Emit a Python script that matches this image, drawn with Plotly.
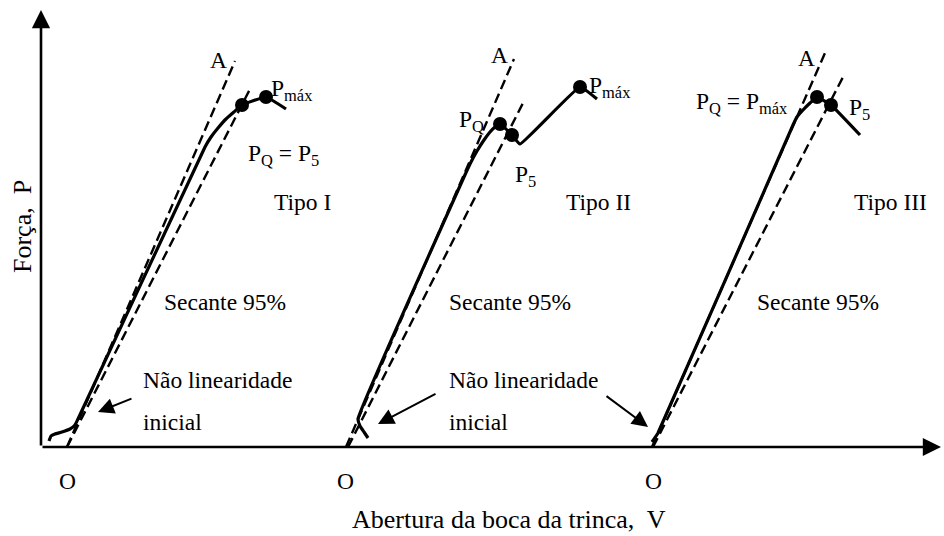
import plotly.graph_objects as go

# ---- data (V = crack mouth opening, P = force), arbitrary schematic units ----
# Curve type I
v_tipo1 = [8, 10, 14, 21, 29, 34, 37, 164, 170, 177, 185, 193, 201, 225, 245]
p_tipo1 = [6, 11, 13, 15, 18, 22, 28, 300, 310, 319, 328, 335, 342, 350, 338]
# Curve type II
v_tipo2 = [327, 323, 319, 317, 423, 429, 436, 443, 449, 454, 459, 471, 479, 539, 556]
p_tipo2 = [9, 15, 21, 28, 270, 283, 296, 307, 315, 320, 323, 312, 303, 360, 348]
# Curve type III
v_tipo3 = [611, 617, 752, 756, 762, 769, 776, 790, 819]
p_tipo3 = [5, 14, 322, 330, 337, 344, 350, 342, 312]

# Tangent lines (O -> A) and 95% secant lines
v_tang = [[26, 194], [305, 473], [611, 784]]
p_tang = [[0, 386], [0, 388], [0, 394]]
v_sec = [[26, 209], [307, 482], [612, 802]]
p_sec = [[0, 358], [0, 344], [0, 370]]

# Marked points
v_pts = [201, 225, 459, 471, 539, 776, 790]
p_pts = [342, 350, 323, 312, 360, 350, 342]

lbl_font = "Liberation Serif"
FS = 23.5

fig = go.Figure()

for vv, pp in zip(v_tang + v_sec, p_tang + p_sec):
    fig.add_trace(go.Scatter(x=vv, y=pp, mode="lines",
                             line=dict(color="black", width=2.4, dash="10px,5px"),
                             hoverinfo="skip", showlegend=False))

for vv, pp in [(v_tipo1, p_tipo1), (v_tipo2, p_tipo2), (v_tipo3, p_tipo3)]:
    fig.add_trace(go.Scatter(x=vv, y=pp, mode="lines",
                             line=dict(color="black", width=3.2, shape="spline", smoothing=0.3),
                             hoverinfo="skip", showlegend=False))

fig.add_trace(go.Scatter(x=v_pts, y=p_pts, mode="markers",
                         marker=dict(color="black", size=14),
                         hoverinfo="skip", showlegend=False))

ann = []
def txt(x, y, s, anchor="left", size=FS, yanchor="middle"):
    ann.append(dict(x=x, y=y, xref="x", yref="y", text=s, showarrow=False,
                    xanchor=anchor, yanchor=yanchor, borderpad=0,
                    font=dict(family=lbl_font, size=size, color="black")))

# Panel I
txt(177, 387, "A", "center")
txt(229, 357, "P<sub>máx</sub>")
txt(206, 292, "P<sub>Q</sub> = P<sub>5</sub>")
txt(261.5, 245, "Tipo I", "center")
txt(122, 145, "Secante 95%")
txt(101, 67, "Não linearidade")
txt(101, 25, "inicial")
txt(26, -34, "O", "center")
# Panel II
txt(458, 392, "A", "center")
txt(547, 360, "P<sub>máx</sub>")
txt(417, 326, "P<sub>Q</sub>")
txt(473, 271, "P<sub>5</sub>")
txt(557.5, 245, "Tipo II", "center")
txt(407, 145, "Secante 95%")
txt(407, 67, "Não linearidade")
txt(407, 25, "inicial")
txt(304, -34, "O", "center")
# Panel III
txt(765, 389, "A", "center")
txt(654, 344, "P<sub>Q</sub> = P<sub>máx</sub>")
txt(807, 338, "P<sub>5</sub>")
txt(849.5, 245, "Tipo III", "center")
txt(715, 145, "Secante 95%")
txt(612, -34, "O", "center")

# Axis titles
txt(468, -88, "Abertura da boca da trinca,\u00a0 V", "center", 26, "bottom")
ann.append(dict(x=-19, y=220, xref="x", yref="y", text="Força,\u00a0 P", showarrow=False,
                textangle=-90, xanchor="center", yanchor="middle",
                font=dict(family=lbl_font, size=26, color="black")))

def arrow(tail, tip, width=2.0, size=1.0, head=2):
    ann.append(dict(x=tip[0], y=tip[1], ax=tail[0], ay=tail[1],
                    xref="x", yref="y", axref="x", ayref="y", text="",
                    showarrow=True, arrowhead=head, arrowsize=size,
                    arrowwidth=width, arrowcolor="black", standoff=0))

# Axes with arrows
arrow((0, 0), (0, 437), width=2.6, size=1.4)
arrow((0, 0), (900, 0), width=2.6, size=1.4)
# Pointer arrows
arrow((92, 49), (57, 35), width=2.0, size=1.6)
arrow((396, 54), (337, 23), width=2.0, size=1.6)
arrow((564, 52), (607, 20), width=2.0, size=1.6)

fig.update_layout(
    width=944, height=536,
    margin=dict(l=0, r=0, t=0, b=0),
    paper_bgcolor="white", plot_bgcolor="white",
    xaxis=dict(range=[-41, 903], visible=False, fixedrange=True),
    yaxis=dict(range=[-89, 447], visible=False, fixedrange=True),
    annotations=ann,
    showlegend=False,
)

fig.write_html("out.html",
               config={"displayModeBar": False, "staticPlot": True},
               post_script="document.body.style.margin='0';document.body.style.overflow='hidden';")
